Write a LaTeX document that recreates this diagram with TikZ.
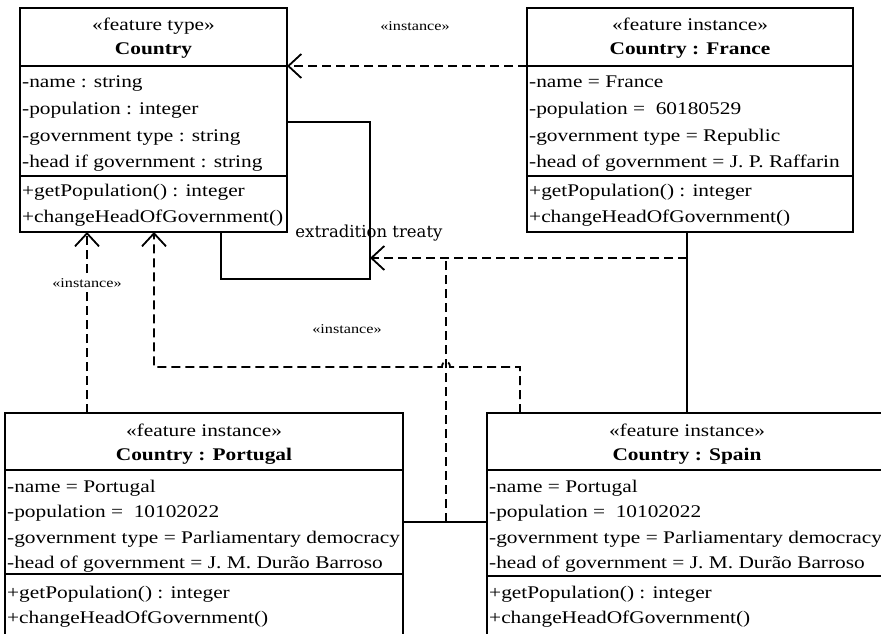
\documentclass[tikz,border=0pt]{standalone}
\usepackage{fontspec}
\setmainfont{Liberation Serif}
\newfontfamily\umlfont[FakeStretch=1.2]{Liberation Serif}
\newfontfamily\treatyfont{DejaVu Serif}
\usetikzlibrary{arrows.meta,calc}

\tikzset{
  umlbox/.style={draw, line width=2.6pt, rectangle, anchor=north west, inner sep=0pt, outer sep=0pt},
  compsep/.style={line width=1.6pt},
  rowtxt/.style={anchor=base west, inner sep=0pt, font=\umlfont\fontsize{17.8}{20}\selectfont},
  headtxt/.style={anchor=base, inner sep=0pt, font=\umlfont\fontsize{17.8}{20}\selectfont},
  headname/.style={headtxt, font=\umlfont\bfseries\fontsize{17.8}{20}\selectfont},
  stereo/.style={inner sep=1pt, fill=white, font=\umlfont\fontsize{13.5}{15}\selectfont},
  link/.style={line width=2.4pt},
  deponly/.style={line width=1.8pt, dash pattern=on 9pt off 5pt},
  instdep/.style={deponly, -{Straight Barb[length=13pt,width=24pt,line width=1.8pt]}},
}

% rows of a compartment: box, tag, first baseline offset, step, entries
\newcommand\umlrows[5]{%
  \foreach \t [count=\i] in {#5}
    \node[rowtxt] (#1-#2\i) at ($(#1.north west)+(2,{#3+(\i-1)*#4})$) {\t};
}
% stereotype and name in the top compartment
\newcommand\umlhead[3]{%
  \node[headtxt] (#1-stereo) at ($(#1.north)+(0,23)$) {#2};
  \node[headname] (#1-name) at ($(#1.north)+(0,47)$) {#3};
}
% compartment separators: box, first offset, second offset
\newcommand\umlseps[3]{%
  \draw[compsep] ($(#1.north west)+(0,#2)$) -- ($(#1.north east)+(0,#2)$);
  \draw[compsep] ($(#1.north west)+(0,#3)$) -- ($(#1.north east)+(0,#3)$);
}

\begin{document}
\begin{tikzpicture}[x=1pt,y=-1pt]
\fill[white] (0,0) rectangle (881,634);
\useasboundingbox (0,0) rectangle (881,634);
\clip (0,0) rectangle (881,634);

% ---- classes ----
\node[umlbox, minimum width=267pt, minimum height=224pt] (country) at (20,8) {};
\node[umlbox, minimum width=326pt, minimum height=224pt] (france) at (527,8) {};
\node[umlbox, minimum width=398pt, minimum height=240pt] (portugal) at (5,413) {};
\node[umlbox, minimum width=400pt, minimum height=240pt] (spain) at (487,413) {};

\umlseps{country}{58}{168}
\umlseps{france}{58}{168}
\umlseps{portugal}{57}{161}
\umlseps{spain}{57}{163}

\umlhead{country}{«feature type»}{Country}
\umlrows{country}{a}{80}{26.5}{-name : string, -population : integer, -government type : string, -head if government : string}
\umlrows{country}{o}{188}{26.5}{+getPopulation() : integer, +changeHeadOfGovernment()}

\umlhead{france}{«feature instance»}{Country : France}
\umlrows{france}{a}{80}{26.5}{-name = France, -population = \ 60180529, -government type = Republic, -head of government = J. P. Raffarin}
\umlrows{france}{o}{188}{26.5}{+getPopulation() : integer, +changeHeadOfGovernment()}

\umlhead{portugal}{«feature instance»}{Country : Portugal}
\umlrows{portugal}{a}{79}{25.5}{-name = Portugal, -population = \ 10102022, -government type = Parliamentary democracy, -head of government = J. M. Durão Barroso}
\umlrows{portugal}{o}{185}{25}{+getPopulation() : integer, +changeHeadOfGovernment()}

\umlhead{spain}{«feature instance»}{Country : Spain}
\umlrows{spain}{a}{79}{25.5}{-name = Portugal, -population = \ 10102022, -government type = Parliamentary democracy, -head of government = J. M. Durão Barroso}
\umlrows{spain}{o}{185}{25}{+getPopulation() : integer, +changeHeadOfGovernment()}

% ---- extradition treaty association (Country to itself) ----
\coordinate (xcorner) at (370,279);
\coordinate (xleft) at (221,279);
\draw[link] ($(country.north east)+(0,114)$) -| (xcorner) -- (xleft) -- (xleft |- country.south);
\node[anchor=base, inner sep=0pt, font=\treatyfont\fontsize{16.5}{18}\selectfont] (treaty) at (369,237) {extradition treaty};

% ---- links between instances ----
\coordinate (fsx) at (687,0);
\draw[link] (fsx |- france.south) -- (fsx |- spain.north);
\coordinate (psy) at (0,522);
\draw[link] (portugal.east |- psy) -- (spain.west |- psy);

% links are instances of the association
\coordinate (fsmid) at (687,258);
\coordinate (psmid) at (446,522);
\coordinate (assocpt) at (370,258);
\draw[instdep] (fsmid) -- (assocpt);
\draw[deponly] (psmid) -- (psmid |- fsmid);

% ---- instance dependencies to the feature type ----
\draw[instdep] ($(france.north west)+(0,58)$) -- ($(country.north east)+(0,58)$);
\node[stereo] (lbl-france) at (415,26) {«instance»};

\coordinate (sx) at (520,0);
\coordinate (sy) at (0,367);
\coordinate (cx) at ($(country.south west)+(134,0)$);
\draw[instdep] (sx |- spain.north) -- (sx |- sy) -- (450,367)
  .. controls (450,360) and (442,360) .. (442,367)
  -- (cx |- sy) -- (cx);
\node[stereo] (lbl-spain) at (347,329) {«instance»};

\draw[instdep] ($(portugal.north west)+(82,0)$) -- ($(country.south west)+(67,0)$);
\node[stereo] (lbl-portugal) at (87,283) {«instance»};
\end{tikzpicture}
\end{document}
